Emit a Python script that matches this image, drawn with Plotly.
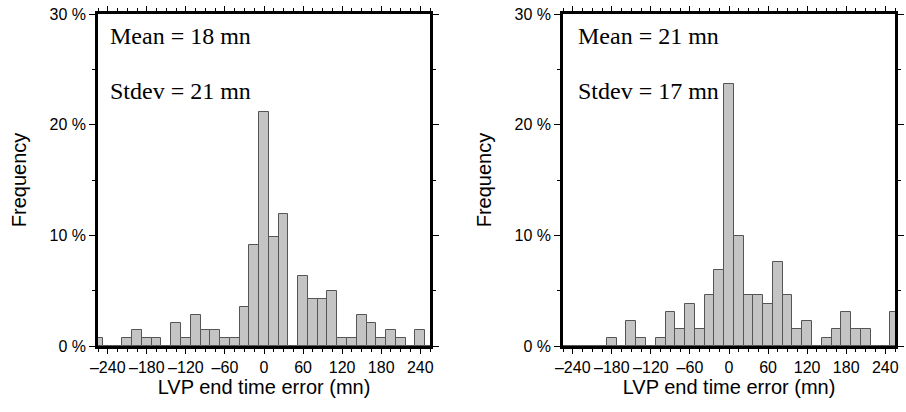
import plotly.graph_objects as go

# Bin centres (minutes), bin width 15
bin_centers = [-255, -240, -225, -210, -195, -180, -165, -150, -135, -120, -105, -90, -75, -60,
               -45, -30, -15, 0, 15, 30, 45, 60, 75, 90, 105, 120, 135, 150, 165, 180, 195,
               210, 225, 240, 255]
# Frequency (%)
freq_left = [0.70, 0, 0, 0.70, 1.41, 0.70, 0.70, 0, 2.11, 0.70, 2.82, 1.41, 1.41, 0.70,
             0.70, 3.52, 9.15, 21.13, 9.86, 11.97, 0, 6.34, 4.23, 4.23, 4.93, 0.70, 0.70,
             2.82, 2.11, 0.70, 1.41, 0.70, 0, 1.41, 0]
# Frequency (%)
freq_right = [0, 0, 0, 0, 0, 0.76, 0, 2.29, 0.76, 0, 0.76, 3.05, 1.53, 3.82,
              1.53, 4.58, 6.87, 23.66, 9.92, 4.58, 4.58, 3.82, 7.63, 4.58, 1.53, 2.29, 0,
              0.76, 1.53, 3.05, 1.53, 1.53, 0, 0, 3.05]

x_tickvals = [-240, -180, -120, -60, 0, 60, 120, 180, 240]
x_ticktext = ["\u2013240", "\u2013180", "\u2013120", "\u201360", "0", "60", "120", "180", "240"]
y_tickvals = [0, 10, 20, 30]
y_ticktext = ["0 %", "10 %", "20 %", "30 %"]

stats_left = ["Mean = 18 mn", "Stdev = 21 mn"]
stats_right = ["Mean = 21 mn", "Stdev = 17 mn"]

W, H = 906, 412
fig = go.Figure()

bar_style = dict(marker=dict(color="#c4c4c4", line=dict(color="#555555", width=1)),
                 width=15, showlegend=False, hoverinfo="skip")
fig.add_trace(go.Bar(x=bin_centers, y=freq_left, xaxis="x", yaxis="y", **bar_style))
fig.add_trace(go.Bar(x=bin_centers, y=freq_right, xaxis="x2", yaxis="y2", **bar_style))

tick_font = dict(family="Liberation Sans, Arial, sans-serif", size=16, color="black")
title_font = dict(family="Liberation Sans, Arial, sans-serif", size=20, color="black")

def xaxis(domain, anchor):
    return dict(domain=domain, anchor=anchor, range=[-255, 255], tickvals=x_tickvals,
                ticktext=x_ticktext, ticks="outside", ticklen=5, tickwidth=1.2,
                tickcolor="black", showline=True, linewidth=2.5, linecolor="black",
                mirror="ticks", showgrid=False, zeroline=False, tickfont=tick_font,
                automargin=False, ticklabelstandoff=0,
                minor=dict(dtick=15, tick0=0, ticks="outside", ticklen=3, tickcolor="black"),
                title=dict(text="LVP end time error (mn)", font=title_font, standoff=6))

def yaxis(domain, anchor):
    return dict(domain=domain, anchor=anchor, range=[0, 30], tickvals=y_tickvals,
                ticktext=y_ticktext, ticks="outside", ticklen=6, tickwidth=1.2,
                tickcolor="black", showline=True, linewidth=2.5, linecolor="black",
                mirror="ticks", showgrid=False, zeroline=False, tickfont=tick_font,
                automargin=False,
                minor=dict(dtick=5, tick0=0, ticks="outside", ticklen=3, tickcolor="black"),
                title=dict(text="Frequency", font=title_font, standoff=18))

ydom = [1 - 346 / H, 1 - 14 / H]
fig.update_layout(
    width=W, height=H,
    margin=dict(l=0, r=0, t=0, b=0),
    paper_bgcolor="white", plot_bgcolor="white",
    bargap=0,
    xaxis=xaxis([98 / W, 430 / W], "y"),
    yaxis=yaxis(ydom, "x"),
    xaxis2=xaxis([563 / W, 895 / W], "y2"),
    yaxis2=yaxis(ydom, "x2"),
)

ann_font = dict(family="Liberation Serif, Times New Roman, serif", size=24, color="black")
for xref, yref, texts in [("x", "y", stats_left), ("x2", "y2", stats_right)]:
    for i, t in enumerate(texts):
        fig.add_annotation(x=0.03 if xref == "x" else 0.04, y=[28.0, 23.0][i],
                           xref=f"{xref} domain", yref=yref, text=t, showarrow=False,
                           xanchor="left", yanchor="middle", font=ann_font)

fig.write_html("out.html", config={"displayModeBar": False},
               post_script="document.body.style.margin='0';document.body.style.overflow='hidden';")
